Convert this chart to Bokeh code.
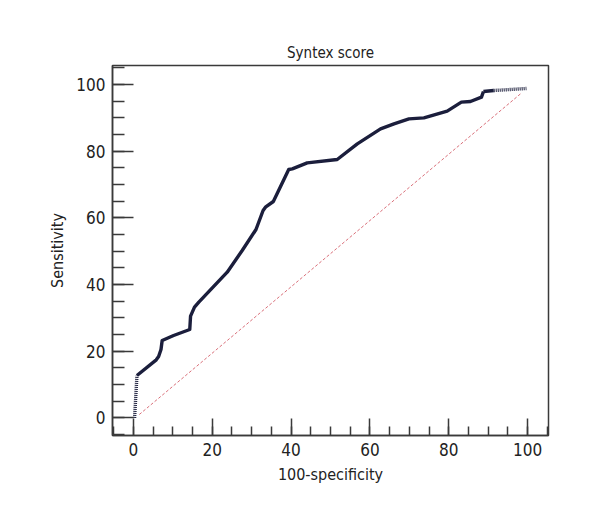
from bokeh.plotting import figure
from bokeh.embed import file_html
from bokeh.resources import INLINE
from bokeh.models import Range1d, FixedTicker

# ROC curve (100-specificity vs sensitivity)
fpr = [0.3, 0.9, 5.8, 6.4, 7.0, 7.3, 10.2, 14.3, 14.5, 15.5, 16.6, 23.8, 27.6,
       31.1, 32.9, 33.5, 35.5, 39.4, 40.3, 44.1, 51.7, 56.8, 62.7, 66.1, 69.9,
       73.7, 79.6, 83.2, 85.5, 88.3, 88.8, 91.4, 99.7]
tpr = [0.0, 12.7, 17.4, 18.4, 20.5, 23.2, 24.7, 26.5, 30.5, 33.2, 34.7, 43.7, 50.2,
       56.5, 62.2, 63.2, 64.9, 74.5, 74.7, 76.5, 77.5, 82.2, 86.7, 88.2, 89.7,
       90.0, 92.0, 94.7, 94.9, 96.2, 97.9, 98.2, 98.8]

# Reference diagonal
diag_x = [1.5, 98.2]
diag_y = [1.0, 97.2]

x_ticks = [0, 20, 40, 60, 80, 100]
y_ticks = [0, 20, 40, 60, 80, 100]

FONT = "DejaVu Sans Condensed, Open Sans"
NAVY = "#1b1e3c"
AX = "#3a3a3a"

p = figure(frame_width=436, frame_height=370,
           min_border_left=112, min_border_right=50,
           min_border_top=65, min_border_bottom=80,
           x_range=Range1d(-5.3, 105.3), y_range=Range1d(-5.3, 105.7),
           output_backend="svg", toolbar_location=None,
           title="Syntex score")

p.title.align = "center"
p.title.text_font = FONT
p.title.text_font_size = "15px"
p.title.text_font_style = "normal"
p.title.text_color = "#222222"
p.title.standoff = 8

p.outline_line_color = AX
p.outline_line_width = 1.5
p.outline_line_alpha = 1
p.xgrid.visible = False
p.ygrid.visible = False

for ax in (p.xaxis[0], p.yaxis[0]):
    ax.axis_line_color = AX
    ax.axis_line_width = 1.5
    ax.major_tick_line_color = AX
    ax.major_tick_line_width = 1.5
    ax.minor_tick_line_color = AX
    ax.minor_tick_line_width = 1.5
    ax.major_tick_out = 0
    ax.minor_tick_out = 0
    ax.major_label_text_font = FONT
    ax.major_label_text_font_size = "17px"
    ax.major_label_text_color = "#222222"
    ax.axis_label_text_font = FONT
    ax.axis_label_text_font_size = "16px"
    ax.axis_label_text_font_style = "normal"
    ax.axis_label_text_color = "#222222"

p.xaxis.ticker = FixedTicker(ticks=x_ticks, minor_ticks=list(range(-5, 106, 5)))
p.yaxis.ticker = FixedTicker(ticks=y_ticks, minor_ticks=list(range(-5, 106, 5)))
p.xaxis.major_tick_in = 17
p.xaxis.minor_tick_in = 9
p.yaxis.major_tick_in = 21
p.yaxis.minor_tick_in = 12
p.xaxis.major_label_standoff = 7
p.yaxis.major_label_standoff = 7
p.xaxis.axis_label = "100-specificity"
p.yaxis.axis_label = "Sensitivity"
p.xaxis.axis_label_standoff = 6
p.yaxis.axis_label_standoff = 6

p.line(diag_x, diag_y, line_color="#d9707a", line_width=1, line_dash="3 2")

n = len(fpr)
p.line(fpr[1:n - 2], tpr[1:n - 2], line_color=NAVY, line_width=3.4,
       line_join="round")
p.line(fpr[:2], tpr[:2], line_color=NAVY, line_width=3.4, line_dash="1 1")
p.line(fpr[n - 3:n - 1], tpr[n - 3:n - 1], line_color=NAVY, line_width=3.4)
p.line(fpr[n - 2:], tpr[n - 2:], line_color=NAVY, line_width=3.4, line_dash="1 1")

open("out.html", "w").write(file_html(p, INLINE))
